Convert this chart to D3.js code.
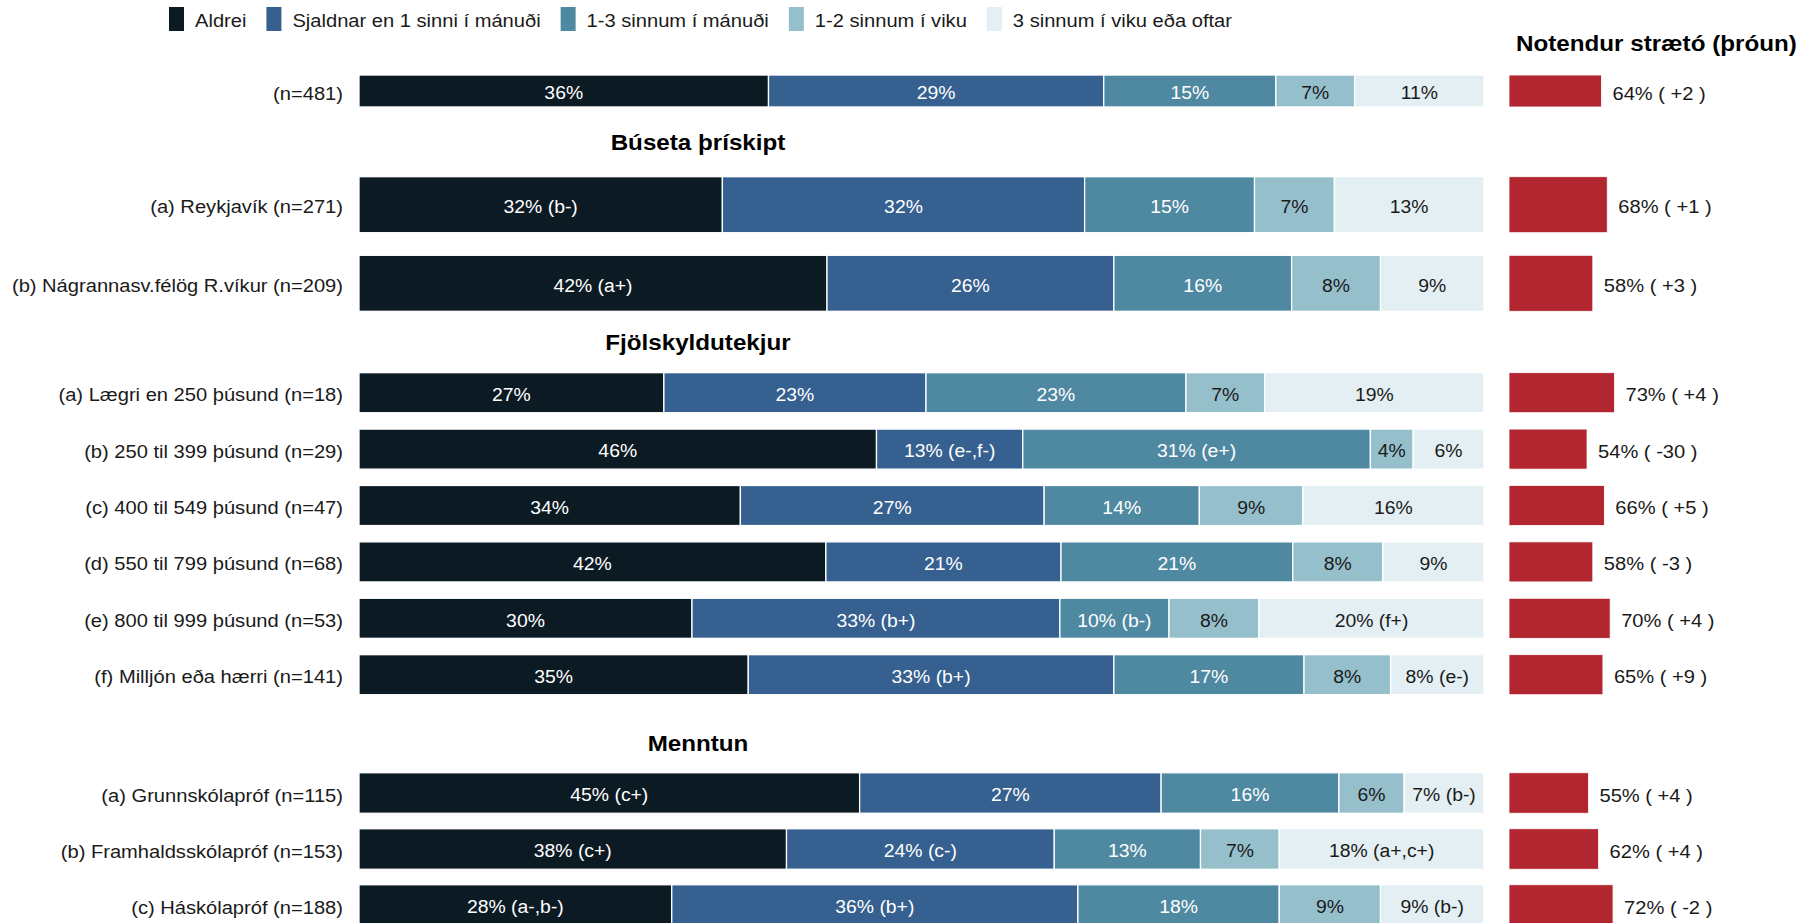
<!DOCTYPE html>
<html lang="en">
<head>
<meta charset="UTF-8">
<script src="https://cdn.jsdelivr.net/npm/d3@7"></script>
<style>
  body { margin: 0; background: #fff; }
  svg text { font-family: "Liberation Sans", Arial, sans-serif; }
</style>
<title>Notendur strætó</title>
</head>
<body>
<div id="chart"></div>
<script>

// categories / series
var legendKeys = ["Aldrei", "Sjaldnar en 1 sinni í mánuði", "1-3 sinnum í mánuði", "1-2 sinnum í viku", "3 sinnum í viku eða oftar"];
var groups = ["", "Búseta þrískipt", "Fjölskyldutekjur", "Menntun"];
var rowLabels = [
  "(n=481)",
  "(a) Reykjavík (n=271)",
  "(b) Nágrannasv.félög R.víkur (n=209)",
  "(a) Lægri en 250 þúsund (n=18)",
  "(b) 250 til 399 þúsund (n=29)",
  "(c) 400 til 549 þúsund (n=47)",
  "(d) 550 til 799 þúsund (n=68)",
  "(e) 800 til 999 þúsund (n=53)",
  "(f) Milljón eða hærri (n=141)",
  "(a) Grunnskólapróf (n=115)",
  "(b) Framhaldsskólapróf (n=153)",
  "(c) Háskólapróf (n=188)"
];
var rowGroup = [0, 1, 1, 2, 2, 2, 2, 2, 2, 3, 3, 3];

var aldrei   = [36.4, 32.3, 41.6, 27.1, 46.0, 33.9, 41.5, 29.6, 34.6, 44.5, 38.0, 27.8];
var sjaldnar = [29.8, 32.2, 25.5, 23.3, 13.0, 27.0, 20.9, 32.7, 32.5, 26.8, 23.8, 36.1];
var manudi13 = [15.3, 15.1, 15.8, 23.1, 30.9, 13.8, 20.6,  9.7, 16.9, 15.8, 13.0, 17.9];
var viku12   = [ 7.0,  7.1,  7.9,  7.0,  3.8,  9.2,  8.0,  8.0,  7.7,  5.8,  7.0,  9.0];
var viku3    = [11.5, 13.3,  9.2, 19.5,  6.3, 16.1,  9.0, 20.0,  8.3,  7.1, 18.2,  9.2];

var aldreiLbl   = ["36%", "32% (b-)", "42% (a+)", "27%", "46%", "34%", "42%", "30%", "35%", "45% (c+)", "38% (c+)", "28% (a-,b-)"];
var sjaldnarLbl = ["29%", "32%", "26%", "23%", "13% (e-,f-)", "27%", "21%", "33% (b+)", "33% (b+)", "27%", "24% (c-)", "36% (b+)"];
var manudi13Lbl = ["15%", "15%", "16%", "23%", "31% (e+)", "14%", "21%", "10% (b-)", "17%", "16%", "13%", "18%"];
var viku12Lbl   = ["7%", "7%", "8%", "7%", "4%", "9%", "8%", "8%", "8%", "6%", "7%", "9%"];
var viku3Lbl    = ["11%", "13%", "9%", "19%", "6%", "16%", "9%", "20% (f+)", "8% (e-)", "7% (b-)", "18% (a+,c+)", "9% (b-)"];

var users      = [64, 68, 58, 73, 54, 66, 58, 70, 65, 55, 62, 72];
var userChange = ["+2", "+1", "+3", "+4", "-30", "+5", "-3", "+4", "+9", "+4", "+4", "-2"];

var colors = ["#0c1a24", "#36608f", "#4f88a1", "#96bfcc", "#e3eff2"];
var textColors = ["#ffffff", "#ffffff", "#ffffff", "#1a1a1a", "#1a1a1a"];
var red = "#b2272f";

var seriesVals = [aldrei, sjaldnar, manudi13, viku12, viku3];
var seriesLbls = [aldreiLbl, sjaldnarLbl, manudi13Lbl, viku12Lbl, viku3Lbl];

var width = 1800, height = 923;
var stretch = 1.1;

var svg = d3.select("#chart").append("svg")
    .attr("width", width)
    .attr("height", height);

// text is a touch wider than tall in the original
function place(sel, x, y) {
  return sel.attr("transform", "translate(" + x + "," + y + ") scale(" + stretch + ",1)");
}

var x = d3.scaleLinear().domain([0, 100]).range([359, 1484]);
var xu = d3.scaleLinear().domain([0, 100]).range([1509, 1653.5]);

var panels = [
  { range: [68.5, 113.5], pad: 0.29 },
  { range: [165.4, 322.6], pad: 0.2875, titleY: 142 },
  { range: [364.5, 702.9], pad: 0.29, titleY: 342 },
  { range: [765, 933], pad: 0.277, titleY: 743 }
];
panels.forEach(function(p, g) {
  p.y = d3.scaleBand()
    .domain(rowLabels.filter(function(r, i) { return rowGroup[i] === g; }))
    .range(p.range)
    .paddingInner(p.pad)
    .paddingOuter(p.pad / 2);
});

function yTop(i) { return panels[rowGroup[i]].y(rowLabels[i]); }
function bw(i) { return panels[rowGroup[i]].y.bandwidth(); }
function yMid(i) { return yTop(i) + bw(i) / 2; }

var rows = rowLabels.map(function(r, i) {
  var o = { idx: i, label: r };
  legendKeys.forEach(function(k, s) { o[k] = seriesVals[s][i]; });
  return o;
});
var stacked = d3.stack().keys(legendKeys)(rows);

// stacked bars
var layer = svg.selectAll("g.layer")
  .data(stacked)
  .join("g")
    .attr("class", "layer")
    .attr("fill", function(d, s) { return colors[s]; });

layer.selectAll("rect")
  .data(function(d) { return d; })
  .join("rect")
    .attr("x", function(d) { return x(d[0]); })
    .attr("width", function(d) { return x(d[1]) - x(d[0]); })
    .attr("y", function(d) { return yTop(d.data.idx); })
    .attr("height", function(d) { return bw(d.data.idx); })
    .attr("stroke", "#fff")
    .attr("stroke-width", 1.3);

stacked.forEach(function(ser, s) {
  svg.append("g").selectAll("text")
    .data(ser)
    .join("text")
      .attr("text-anchor", "middle")
      .attr("dy", "0.36em")
      .attr("font-size", "17.6px")
      .attr("fill", textColors[s])
      .each(function(d) {
        place(d3.select(this), x((d[0] + d[1]) / 2), yMid(d.data.idx) + 2);
      })
      .text(function(d) { return seriesLbls[s][d.data.idx]; });
});

// row labels
svg.append("g").selectAll("text")
  .data(rows)
  .join("text")
    .attr("text-anchor", "end")
    .attr("dy", "0.36em")
    .attr("font-size", "18.3px")
    .attr("fill", "#1a1a1a")
    .each(function(d) { place(d3.select(this), 343, yMid(d.idx) + 2); })
    .text(function(d) { return d.label; });

// group headings
panels.forEach(function(p, g) {
  if (!groups[g]) return;
  place(svg.append("text"), 698, p.titleY)
    .attr("text-anchor", "middle")
    .attr("dy", "0.36em")
    .attr("font-size", "22px")
    .attr("font-weight", "bold")
    .attr("fill", "#000")
    .text(groups[g]);
});

// users panel
svg.append("g").selectAll("rect")
  .data(rows)
  .join("rect")
    .attr("x", xu(0))
    .attr("y", function(d) { return yTop(d.idx); })
    .attr("width", function(d) { return xu(users[d.idx]) - xu(0); })
    .attr("height", function(d) { return bw(d.idx); })
    .attr("fill", red)
    .attr("stroke", "#fff")
    .attr("stroke-width", 0.8);

svg.append("g").selectAll("text")
  .data(rows)
  .join("text")
    .attr("dy", "0.36em")
    .attr("font-size", "18.3px")
    .attr("fill", "#1a1a1a")
    .each(function(d) { place(d3.select(this), xu(users[d.idx]) + 11, yMid(d.idx) + 2); })
    .text(function(d) { return users[d.idx] + "% ( " + userChange[d.idx] + " )"; });

place(svg.append("text"), 1516, 43)
  .attr("dy", "0.36em")
  .attr("font-size", "22px")
  .attr("font-weight", "bold")
  .attr("fill", "#000")
  .text("Notendur strætó (þróun)");

// legend
var lx = 169;
legendKeys.forEach(function(k, s) {
  svg.append("rect")
    .attr("x", lx).attr("y", 7)
    .attr("width", 15).attr("height", 24)
    .attr("fill", colors[s]);
  var t = place(svg.append("text"), lx + 26, 20)
    .attr("dy", "0.36em")
    .attr("font-size", "18.3px")
    .attr("fill", "#1a1a1a")
    .text(k);
  lx += 26 + t.node().getComputedTextLength() * stretch + 20;
});

</script>
</body>
</html>
